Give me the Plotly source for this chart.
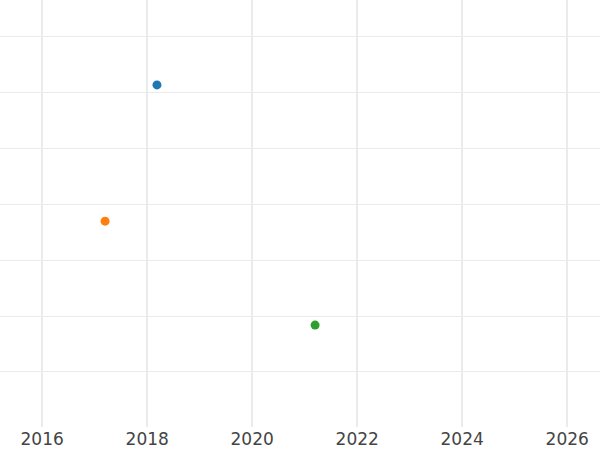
import plotly.graph_objects as go

dates = ["2018-03-10", "2017-03-14", "2021-03-14"]
values = [5.14, 2.70, 0.84]
colors = ["#1f77b4", "#ff7f0e", "#2ca02c"]
names = ["A", "B", "C"]

fig = go.Figure()
for d, v, c, n in zip(dates, values, colors, names):
    fig.add_trace(go.Scatter(x=[d], y=[v], mode="markers", name=n,
                             marker=dict(color=c, size=9), showlegend=False))

fig.update_layout(
    width=600, height=450,
    margin=dict(l=0, r=0, t=0, b=23),
    plot_bgcolor="white", paper_bgcolor="white",
    font=dict(family="DejaVu Sans", size=17, color="#444444"),
)
fig.update_xaxes(type="date", range=["2015-03-14", "2026-08-17"],
                 dtick="M24", tick0="2016-01-01", tickformat="%Y",
                 showgrid=True, gridcolor="#ebebeb", gridwidth=2,
                 zeroline=False, showline=False, ticks="")
fig.update_yaxes(range=[-0.985, 6.66], dtick=1, tick0=0,
                 showticklabels=False, showgrid=True, gridcolor="#ebebeb",
                 gridwidth=1, zeroline=False, showline=False, ticks="")

fig.write_html("out.html", config={"displayModeBar": False},
               post_script="document.body.style.margin='0px';document.body.style.overflow='hidden';")
